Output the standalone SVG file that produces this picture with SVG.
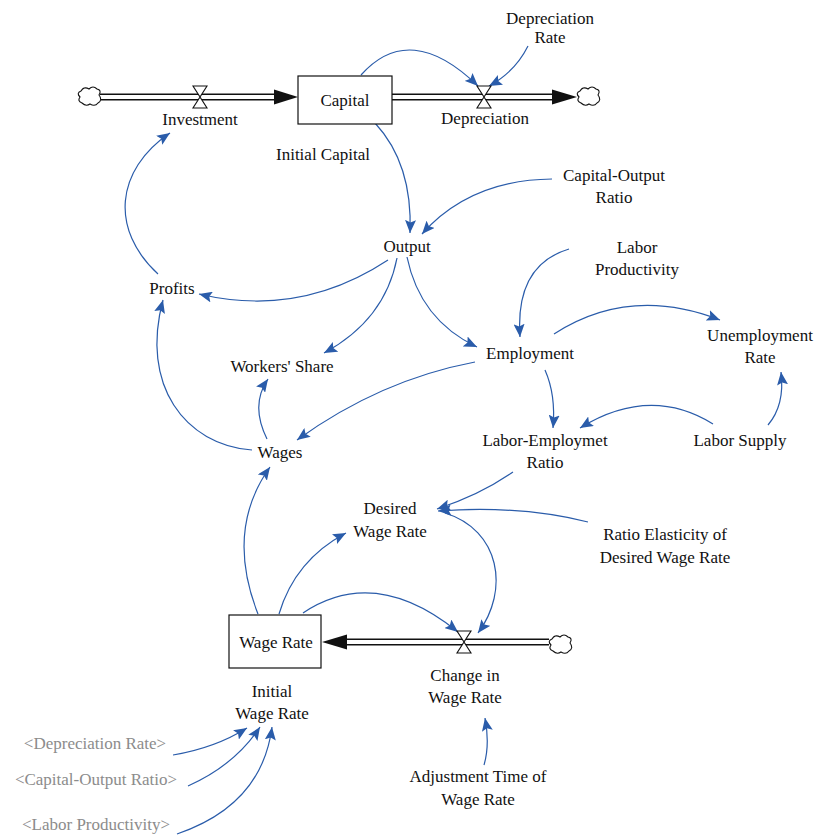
<svg xmlns="http://www.w3.org/2000/svg" width="817" height="839" viewBox="0 0 817 839" font-family="'Liberation Serif', 'Times New Roman', 'DejaVu Serif', serif">
<style>
text{font-family:'Liberation Serif','Times New Roman','DejaVu Serif',serif;font-size:17px;fill:#111;text-anchor:middle}
.sh{fill:#8c8c8c}
.lk{fill:none;stroke:#2a5caa;stroke-width:1.2;marker-end:url(#ah)}
.po{fill:none;stroke:#111;stroke-width:7}
.pi{fill:none;stroke:#fff;stroke-width:4}
.box{fill:#fff;stroke:#111;stroke-width:1.2}
.valve{fill:#fff;stroke:#111;stroke-width:1.1}
.cloud{fill:#fff;stroke:#111;stroke-width:1.1}
</style>
<defs>
<marker id="ah" markerUnits="userSpaceOnUse" markerWidth="14" markerHeight="11" refX="13" refY="5.5" orient="auto">
<path d="M0,0 L13,5.5 L0,11 L2.5,5.5 z" fill="#2a5caa"/>
</marker>
<path id="cl" d="M-8,-6 q3,-5 8,-2 q4,-4 8,0 q5,1 2,6 q4,5 -1,8 q-3,4 -8,1 q-4,3 -8,-1 q-5,-2 -2,-6 q-4,-4 1,-6 z"/>
</defs>
<g id="flows">
<path class="po" d="M100,97 H278"/><path class="pi" d="M100,97 H280"/>
<path d="M274,89.5 L298,97 L274,104.5 z" fill="#111"/>
<path class="po" d="M392,97 H556"/><path class="pi" d="M390,97 H558"/>
<path d="M552,89.5 L577,97 L552,104.5 z" fill="#111"/>
<path class="po" d="M344,642 H549"/><path class="pi" d="M342,642 H551"/>
<path d="M347,634.5 L322,642 L347,649.5 z" fill="#111"/>
</g>
<g id="cloud-left"><use href="#cl" x="89" y="97" class="cloud"/></g>
<g id="cloud-right"><use href="#cl" x="588" y="97" class="cloud"/></g>
<g id="cloud-wage"><use href="#cl" x="560" y="645" class="cloud"/></g>
<g id="connectors">
<path class="lk" d="M361,75 Q410,20 478,86"/>
<path class="lk" d="M528,46 Q515,72 489,86"/>
<path class="lk" d="M375,123 C400,150 412,185 410,233"/>
<path class="lk" d="M552,179 Q470,180 422,234"/>
<path class="lk" d="M388,260 Q300,318 199,294"/>
<path class="lk" d="M158,274 C110,230 115,170 170,133"/>
<path class="lk" d="M397,258 Q385,320 324,353"/>
<path class="lk" d="M407,257 Q420,320 477,347"/>
<path class="lk" d="M569,249 Q515,265 520,337"/>
<path class="lk" d="M554,334 Q630,285 720,320"/>
<path class="lk" d="M768,425 Q785,405 781,372"/>
<path class="lk" d="M545,370 Q556,395 553,428"/>
<path class="lk" d="M713,424 Q650,385 580,428"/>
<path class="lk" d="M475,362 Q380,380 297,440"/>
<path class="lk" d="M267,439 Q250,405 268,379"/>
<path class="lk" d="M252,450 C185,445 140,385 163,300"/>
<path class="lk" d="M513,472 Q480,495 437,509"/>
<path class="lk" d="M588,522 Q520,505 438,511"/>
<path class="lk" d="M445,513 C500,530 510,590 478,633"/>
<path class="lk" d="M258,614 Q225,530 270,467"/>
<path class="lk" d="M279,614 Q295,560 346,533"/>
<path class="lk" d="M303,613 Q375,565 458,632"/>
<path class="lk" d="M484,765 Q490,745 485,718"/>
<path class="lk" d="M173,755 Q215,748 247,728"/>
<path class="lk" d="M188,786 Q235,765 260,727"/>
<path class="lk" d="M177,834 Q262,805 272,727"/>
</g>
<g id="investment"><path class="valve" d="M193,86 H207 L193,108 H207 Z"/><text x="200" y="125">Investment</text></g>
<g id="capital"><rect class="box" x="298" y="76" width="94" height="48"/><text x="345" y="106">Capital</text></g>
<g id="depreciation"><path class="valve" d="M477,86 H491 L477,108 H491 Z"/><text x="485" y="124">Depreciation</text></g>
<g id="depreciation-rate"><text x="550" y="24">Depreciation</text><text x="550" y="43">Rate</text></g>
<g id="initial-capital"><text x="323" y="160">Initial Capital</text></g>
<g id="capital-output-ratio"><text x="614" y="181">Capital-Output</text><text x="614" y="203">Ratio</text></g>
<g id="output"><text x="407" y="252">Output</text></g>
<g id="labor-productivity"><text x="637" y="253">Labor</text><text x="637" y="275">Productivity</text></g>
<g id="profits"><text x="172" y="294">Profits</text></g>
<g id="unemployment-rate"><text x="760" y="341">Unemployment</text><text x="760" y="363">Rate</text></g>
<g id="workers-share"><text x="282" y="372">Workers' Share</text></g>
<g id="employment"><text x="530" y="359">Employment</text></g>
<g id="labor-employment-ratio"><text x="545" y="446">Labor-Employmet</text><text x="545" y="468">Ratio</text></g>
<g id="labor-supply"><text x="740" y="446">Labor Supply</text></g>
<g id="wages"><text x="280" y="458">Wages</text></g>
<g id="desired-wage-rate"><text x="390" y="514">Desired</text><text x="390" y="537">Wage Rate</text></g>
<g id="ratio-elasticity"><text x="665" y="540">Ratio Elasticity of</text><text x="665" y="563">Desired Wage Rate</text></g>
<g id="wage-rate"><rect class="box" x="229" y="615" width="92" height="53"/><text x="276" y="648">Wage Rate</text></g>
<g id="change-in-wage-rate"><path class="valve" d="M457,631 H471 L457,653 H471 Z"/><text x="465" y="681">Change in</text><text x="465" y="703">Wage Rate</text></g>
<g id="initial-wage-rate"><text x="272" y="697">Initial</text><text x="272" y="719">Wage Rate</text></g>
<g id="adjustment-time"><text x="478" y="782">Adjustment Time of</text><text x="478" y="805">Wage Rate</text></g>
<g id="shadow-depreciation-rate"><text class="sh" x="95" y="749">&lt;Depreciation Rate&gt;</text></g>
<g id="shadow-capital-output-ratio"><text class="sh" x="96" y="785">&lt;Capital-Output Ratio&gt;</text></g>
<g id="shadow-labor-productivity"><text class="sh" x="96" y="830">&lt;Labor Productivity&gt;</text></g>
</svg>
